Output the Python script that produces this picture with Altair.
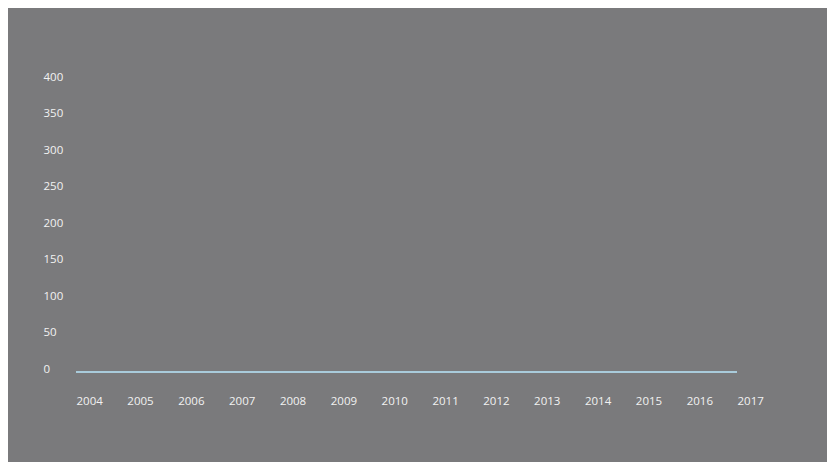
import altair as alt
import pandas as pd

years = [2004, 2005, 2006, 2007, 2008, 2009, 2010, 2011, 2012, 2013, 2014, 2015, 2016, 2017]
values = [0, 0, 0, 0, 0, 0, 0, 0, 0, 0, 0, 0, 0, 0]
y_ticks = [0, 50, 100, 150, 200, 250, 300, 350, 400]

df = pd.DataFrame({"year": years, "value": values})

chart = alt.Chart(df).mark_line(color="#a9cbdb", strokeWidth=2, clip=False).encode(
    x=alt.X("year:Q", scale=alt.Scale(domain=[2004, 2017], nice=False, zero=False),
            axis=alt.Axis(values=years, format="d", title=None, grid=False, domain=False,
                          ticks=False, tickSize=0, labelAlign="left", labelBaseline="top",
                          labelPadding=23, labelColor="#f2f2f2", labelFontSize=11.5,
                          labelFont="Open Sans", labelFlush=False, labelOverlap=False)),
    y=alt.Y("value:Q", scale=alt.Scale(domain=[0, 400], nice=False),
            axis=alt.Axis(values=y_ticks, title=None,
                          grid=False, domain=False, ticks=False, tickSize=0,
                          labelAlign="left", labelBaseline="alphabetic", labelPadding=33,
                          labelColor="#f2f2f2", labelFontSize=11.5, labelFont="Open Sans",
                          labelFlush=False, labelOverlap=False)),
).properties(
    width=661,
    height=292,
    background="#7a7a7c",
    padding={"left": 68, "top": 72, "right": 90, "bottom": 90},
    autosize=alt.AutoSizeParams(type="none"),
).configure_view(stroke=None)

chart.save("out.html", embed_options={"renderer": "svg", "actions": False})
